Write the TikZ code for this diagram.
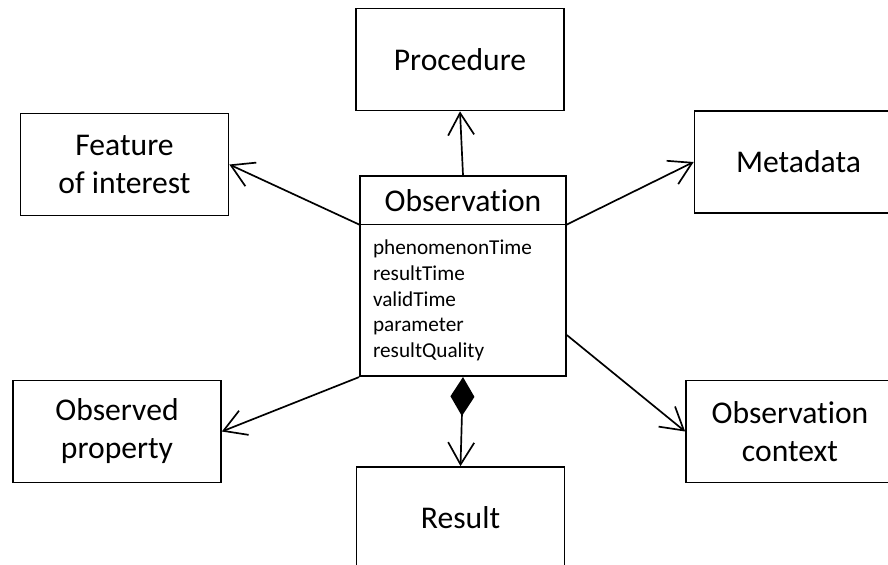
\documentclass[tikz,border=0pt]{standalone}
\usepackage{fontspec}
\setmainfont{Carlito}[Ligatures=NoCommon]
\usepackage{tikz}
\usetikzlibrary{shapes}
\usetikzlibrary{arrows.meta}

\newcommand{\boxfont}{\fontsize{22.5}{27}\selectfont}
\newcommand{\attrfont}{\fontsize{15.1}{18.2}\selectfont}

\begin{document}
\begin{tikzpicture}
	\tikzstyle{thing}=[rectangle,draw,line width=1.2pt,minimum width=5.2cm,minimum height=2.55cm,align=center,font=\boxfont]
	\tikzstyle{umlclass}=[rectangle split,rectangle split parts=2,draw,line width=1.2pt,inner sep=0pt]
	\tikzstyle{assoc}=[line width=1.2pt,-{Straight Barb[length=5.5mm,width=6.5mm]}]
	\tikzstyle{compose}=[line width=1.2pt,{Diamond[length=9.75mm,width=6mm]}-{Straight Barb[length=5.5mm,width=6.5mm]}]
	
	\useasboundingbox (0,0) rectangle (22.2,14.1);
	
	\node[umlclass,anchor=north](obs) at (11.575,9.725)
	{\parbox[c][1.175cm][c]{5.15cm}{\centering\boxfont Observation}
	\nodepart{two}
	\parbox[c][3.75cm][c]{5.15cm}{\raggedright\leftskip=0.325cm\attrfont
		phenomenonTime\\resultTime\\validTime\\parameter\\resultQuality}};
	
	\node[thing](proc) at (11.5,12.6125) {Procedure};
	\node[thing](foi) at (3.1125,9.9875) {Feature\\of interest};
	\node[thing](meta) at (19.9625,10.05) {Metadata};
	\node[thing](prop) at (2.925,3.3125) {Observed\\property};
	\node[thing](ctx) at (19.75,3.3125) {Observation\\context};
	\node[thing](res) at (11.5125,1.15) {Result};
	
	\draw[assoc] (obs.north) -- (proc.south);
	\draw[assoc] (obs.text split west) -- (foi.east);
	\draw[assoc] (obs.text split east) -- (meta.west);
	\draw[assoc] (obs.south west) -- (prop.east);
	\draw[assoc] ([yshift=1.05cm]obs.south east) -- (ctx.west);
	\draw[compose] (obs.south) -- (res.north);
\end{tikzpicture}
\end{document}
